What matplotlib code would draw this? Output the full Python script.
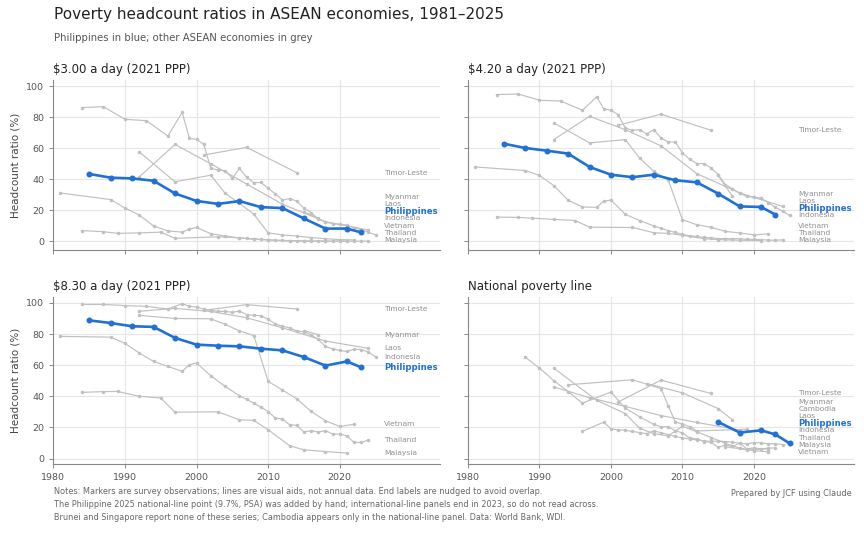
import matplotlib
matplotlib.use("Agg")
import matplotlib.pyplot as plt

# ---- survey years (international lines share years across panels) ----
phl_years = [1985, 1988, 1991, 1994, 1997, 2000, 2003, 2006, 2009, 2012, 2015, 2018, 2021, 2023]
phl_300 = [43.5, 41.1, 40.6, 39.1, 30.9, 26.1, 24.2, 26.0, 22.1, 21.5, 14.8, 8.3, 8.3, 5.8]
phl_420 = [63.0, 60.2, 58.5, 56.6, 48.0, 43.0, 41.4, 43.0, 39.4, 38.1, 30.8, 22.6, 22.2, 17.3]
phl_830 = [88.8, 87.1, 85.0, 84.6, 77.5, 73.2, 72.5, 72.1, 70.6, 69.5, 65.2, 59.7, 62.4, 58.6]

idn_years = [1984, 1987, 1990, 1993, 1996, 1998, 1999, 2000, 2001, 2002, 2003, 2004, 2005,
             2006, 2007, 2008, 2009, 2010, 2011, 2012, 2013, 2014, 2015, 2016, 2017, 2018,
             2019, 2020, 2021, 2022, 2023, 2024, 2025]
idn_300 = [86.2, 86.8, 78.7, 77.8, 67.9, 83.2, 66.4, 65.8, 62.6, 47.1, 46.0, 45.6, 40.7,
           47.0, 41.3, 37.9, 38.0, 34.3, 30.6, 26.7, 27.6, 26.0, 21.4, 18.5, 14.5, 12.5,
           11.5, 11.0, 10.5, 8.8, 7.5, 6.0, 4.2]
idn_420 = [94.6, 95.0, 91.0, 90.4, 84.5, 93.1, 85.4, 84.5, 81.7, 73.1, 71.6, 72.0, 69.3,
           72.0, 66.7, 64.1, 64.1, 57.0, 53.0, 50.2, 50.2, 47.4, 43.1, 36.6, 34.0, 31.0,
           29.0, 28.5, 28.0, 25.0, 22.0, 19.5, 16.8]
idn_830 = [99.0, 99.0, 98.3, 97.8, 96.1, 99.5, 97.8, 97.4, 96.0, 95.2, 94.6, 94.5, 94.0,
           94.8, 92.5, 92.0, 91.8, 89.5, 86.5, 85.0, 84.0, 82.0, 81.5, 79.5, 76.5, 72.0,
           70.5, 69.5, 68.8, 70.3, 70.0, 68.5, 65.3]

lao_years = [1992, 1997, 2002, 2007, 2012, 2018, 2024]
lao_300 = [41.6, 62.5, 50.0, 37.0, 24.0, 12.7, 7.4]
lao_420 = [65.6, 80.6, 72.0, 61.6, 43.7, 31.3, 22.6]
lao_830 = [94.6, 96.5, 94.5, 90.5, 84.0, 75.5, 70.8]

vnm_years = [1992, 1997, 2002, 2004, 2006, 2008, 2010, 2012, 2014, 2016, 2018, 2020, 2022]
vnm_300 = [57.7, 38.4, 42.7, 31.0, 24.5, 17.6, 5.5, 4.2, 3.5, 2.5, 1.8, 1.2, 1.0]
vnm_420 = [76.4, 63.5, 65.6, 53.8, 45.1, 39.8, 14.0, 10.8, 9.1, 6.5, 5.5, 4.2, 4.9]
vnm_830 = [92.0, 90.0, 89.8, 86.2, 82.0, 79.0, 49.6, 44.0, 38.4, 30.3, 24.3, 20.6, 22.0]

tha_years = [1981, 1988, 1990, 1992, 1994, 1996, 1998, 1999, 2000, 2002, 2004, 2006, 2007,
             2008, 2009, 2010, 2011, 2012, 2013, 2014, 2015, 2016, 2017, 2018, 2019, 2020,
             2021, 2022, 2023, 2024]
tha_300 = [31.2, 27.0, 21.5, 17.0, 10.0, 6.8, 6.0, 8.0, 9.0, 5.0, 3.5, 2.3, 2.0,
           1.7, 1.4, 1.1, 0.8, 0.7, 0.5, 0.5, 0.3, 0.3, 0.3, 0.3, 0.2, 0.3,
           0.2, 0.2, 0.2, 0.2]
tha_420 = [48.0, 45.7, 42.5, 36.0, 26.6, 22.2, 22.0, 26.0, 26.7, 17.5, 13.5, 10.0, 8.5,
           7.0, 5.8, 4.6, 3.6, 3.2, 2.6, 2.4, 1.8, 1.9, 1.7, 1.8, 1.3, 1.4,
           1.2, 0.9, 0.8, 1.0]
tha_830 = [78.5, 78.0, 74.0, 67.8, 62.4, 59.2, 56.0, 60.3, 61.4, 53.2, 46.3, 40.3, 38.0,
           35.6, 33.0, 30.2, 26.0, 25.4, 21.7, 21.3, 17.0, 18.0, 17.0, 18.0, 15.7, 15.7,
           14.6, 10.3, 10.3, 12.0]

mys_years = [1984, 1987, 1989, 1992, 1995, 1997, 2003, 2006, 2008, 2010, 2013, 2015, 2018, 2021]
mys_300 = [7.0, 6.3, 5.2, 5.5, 6.0, 2.0, 3.0, 2.3, 1.4, 1.0, 0.3, 0.2, 0.1, 0.1]
mys_420 = [15.7, 15.5, 15.0, 14.2, 13.5, 9.2, 9.0, 5.6, 5.2, 4.0, 1.8, 1.2, 0.8, 0.6]
mys_830 = [42.5, 43.0, 43.1, 40.0, 38.9, 29.8, 30.0, 24.9, 24.5, 18.5, 8.2, 5.6, 4.5, 3.5]

tls_years = [2001, 2007, 2014]
tls_300 = [55.7, 60.6, 44.3]
tls_420 = [74.8, 82.0, 71.6]
tls_830 = [95.2, 98.9, 96.1]

mmr_years = [2015, 2017]
mmr_300 = [19.0, 15.0]
mmr_420 = [42.5, 29.0]
mmr_830 = [82.2, 79.6]

# ---- national poverty lines ----
phl_nat_years = [2015, 2018, 2021, 2023, 2025]
phl_nat = [23.5, 16.7, 18.1, 15.5, 9.7]
idn_nat_years = [1996, 1999, 2000, 2001, 2002, 2003, 2004, 2005, 2006, 2007, 2008, 2009, 2010,
                 2011, 2012, 2013, 2014, 2015, 2016, 2017, 2018, 2019, 2020, 2021, 2022, 2023, 2024]
idn_nat = [17.5, 23.4, 19.1, 18.4, 18.2, 17.4, 16.7, 16.0, 17.8, 16.6, 15.4, 14.2, 13.3,
           12.5, 12.0, 11.4, 11.0, 11.2, 10.9, 10.6, 9.8, 9.4, 10.2, 10.1, 9.5, 9.4, 9.0]
tha_nat_years = [1988, 1990, 1992, 1994, 1996, 2000, 2002, 2004, 2006, 2007, 2008, 2009, 2010,
                 2011, 2012, 2013, 2014, 2015, 2016, 2017, 2018, 2019, 2020, 2021, 2022, 2023]
tha_nat = [65.2, 58.1, 50.1, 43.0, 35.6, 42.7, 32.4, 26.9, 21.9, 20.4, 20.4, 17.9, 16.4,
           13.2, 12.6, 10.9, 10.5, 7.2, 8.6, 7.8, 9.9, 6.2, 6.8, 6.3, 6.6, 6.9]
mys_nat_years = [2016, 2019, 2022]
mys_nat = [7.6, 5.6, 6.2]
vnm_nat_years = [1992, 1998, 2002, 2004, 2006, 2008, 2010, 2012, 2014, 2016, 2018, 2020, 2022]
vnm_nat = [58.1, 37.4, 28.9, 19.5, 16.0, 14.5, 20.7, 17.2, 13.5, 9.8, 6.7, 5.0, 4.3]
lao_nat_years = [1992, 1997, 2002, 2007, 2012, 2018]
lao_nat = [46.0, 39.1, 33.5, 27.6, 23.2, 18.3]
khm_nat_years = [1994, 2003, 2007, 2008, 2009, 2010, 2011, 2012, 2019]
khm_nat = [47.4, 50.6, 45.0, 34.0, 23.5, 22.1, 20.5, 17.7, 18.8]
tls_nat_years = [2001, 2007, 2014]
tls_nat = [36.3, 50.4, 41.8]
mmr_nat_years = [2005, 2010, 2015, 2017]
mmr_nat = [48.2, 42.2, 32.1, 24.8]

BLUE = '#2170d4'
GREY = '#c0c0c0'
GREY_TXT = '#909090'


def draw_panel(ax, series, title):
	""" series: list of (name, years, values); Philippines drawn on top in blue. """
	ends = []
	for name, yy, vv in series:
		if name == 'Philippines':
			continue
		ax.plot(yy, vv, '-o', color=GREY, lw=0.85, ms=1.5, zorder=2)
		ends.append((vv[-1], name))
	for name, yy, vv in series:
		if name == 'Philippines':
			ax.plot(yy, vv, '-o', color=BLUE, lw=1.9, ms=3.3, zorder=4)
			ends.append((vv[-1], name))
	# nudge end labels upward so they don't overlap
	ends.sort()
	gap = 4.6
	prev = None
	for val, name in ends:
		y = max(val, 1.0) if prev is None else max(val, prev + gap)
		prev = y
		if name == 'Philippines':
			ax.text(2026.2, y, name, color=BLUE, fontsize=6.1, fontweight='bold', va='center')
		else:
			ax.text(2026.2, y, name, color=GREY_TXT, fontsize=5.4, va='center')
	ax.set_title(title, loc='left', fontsize=8.5, color='#222222', pad=5)
	ax.set_xlim(1980, 2034)
	ax.set_xticks([1980, 1990, 2000, 2010, 2020])
	ax.set_yticks([0, 20, 40, 60, 80, 100])
	ax.grid(True, color='#e6e6e6', lw=0.8)
	ax.set_axisbelow(True)
	for s in ['top', 'right']:
		ax.spines[s].set_visible(False)
	for s in ['left', 'bottom']:
		ax.spines[s].set_color('#888888')
		ax.spines[s].set_linewidth(0.8)
	ax.tick_params(direction='out', length=3, width=0.7, color='#888888',
				   labelsize=6.8, labelcolor='#555555')


fig = plt.figure(figsize=(8.64, 5.34), dpi=100)
W, H = 864.0, 534.0
ax1 = fig.add_axes([53.3 / W, 1 - 250 / H, 386.7 / W, 170 / H])
ax2 = fig.add_axes([468 / W, 1 - 250 / H, 386 / W, 170 / H])
ax3 = fig.add_axes([53.3 / W, 1 - 463.5 / H, 386.7 / W, 166.8 / H])
ax4 = fig.add_axes([468 / W, 1 - 463.5 / H, 386 / W, 166.8 / H])

draw_panel(ax1, [('Timor-Leste', tls_years, tls_300), ('Myanmar', mmr_years, mmr_300),
				 ('Laos', lao_years, lao_300), ('Indonesia', idn_years, idn_300),
				 ('Vietnam', vnm_years, vnm_300), ('Thailand', tha_years, tha_300),
				 ('Malaysia', mys_years, mys_300), ('Philippines', phl_years, phl_300)],
		   '$3.00 a day (2021 PPP)')
draw_panel(ax2, [('Timor-Leste', tls_years, tls_420), ('Myanmar', mmr_years, mmr_420),
				 ('Laos', lao_years, lao_420), ('Indonesia', idn_years, idn_420),
				 ('Vietnam', vnm_years, vnm_420), ('Thailand', tha_years, tha_420),
				 ('Malaysia', mys_years, mys_420), ('Philippines', phl_years, phl_420)],
		   '$4.20 a day (2021 PPP)')
draw_panel(ax3, [('Timor-Leste', tls_years, tls_830), ('Myanmar', mmr_years, mmr_830),
				 ('Laos', lao_years, lao_830), ('Indonesia', idn_years, idn_830),
				 ('Vietnam', vnm_years, vnm_830), ('Thailand', tha_years, tha_830),
				 ('Malaysia', mys_years, mys_830), ('Philippines', phl_years, phl_830)],
		   '$8.30 a day (2021 PPP)')
draw_panel(ax4, [('Timor-Leste', tls_nat_years, tls_nat), ('Myanmar', mmr_nat_years, mmr_nat),
				 ('Cambodia', khm_nat_years, khm_nat), ('Laos', lao_nat_years, lao_nat),
				 ('Indonesia', idn_nat_years, idn_nat), ('Thailand', tha_nat_years, tha_nat),
				 ('Malaysia', mys_nat_years, mys_nat), ('Vietnam', vnm_nat_years, vnm_nat),
				 ('Philippines', phl_nat_years, phl_nat)],
		   'National poverty line')

for ax in (ax1, ax2):
	ax.set_ylim(-5.5, 104)
	ax.set_xticklabels([])
for ax in (ax3, ax4):
	ax.set_ylim(-3.2, 104)
for ax in (ax2, ax4):
	ax.set_yticklabels([])
for ax in (ax1, ax3):
	ax.set_ylabel('Headcount ratio (%)', fontsize=7.5, color='#444444', labelpad=4)

fig.text(54 / W, 1 - 15 / H, 'Poverty headcount ratios in ASEAN economies, 1981\u20132025',
		 fontsize=11, color='#222222', va='center')
fig.text(54 / W, 1 - 38 / H, 'Philippines in blue; other ASEAN economies in grey',
		 fontsize=7.3, color='#555555', va='center')

notes = ("Notes: Markers are survey observations; lines are visual aids, not annual data. End labels are nudged to avoid overlap.\n"
		 "The Philippine 2025 national-line point (9.7%, PSA) was added by hand; international-line panels end in 2023, so do not read across.\n"
		 "Brunei and Singapore report none of these series; Cambodia appears only in the national-line panel. Data: World Bank, WDI.")
fig.text(54 / W, 1 - 487.5 / H, notes, fontsize=5.9, color='#666666', va='top', linespacing=1.5)
fig.text(852 / W, 1 - 493 / H, 'Prepared by JCF using Claude', fontsize=5.9, color='#666666',
		 va='center', ha='right')

fig.savefig('out.png', dpi=100)
